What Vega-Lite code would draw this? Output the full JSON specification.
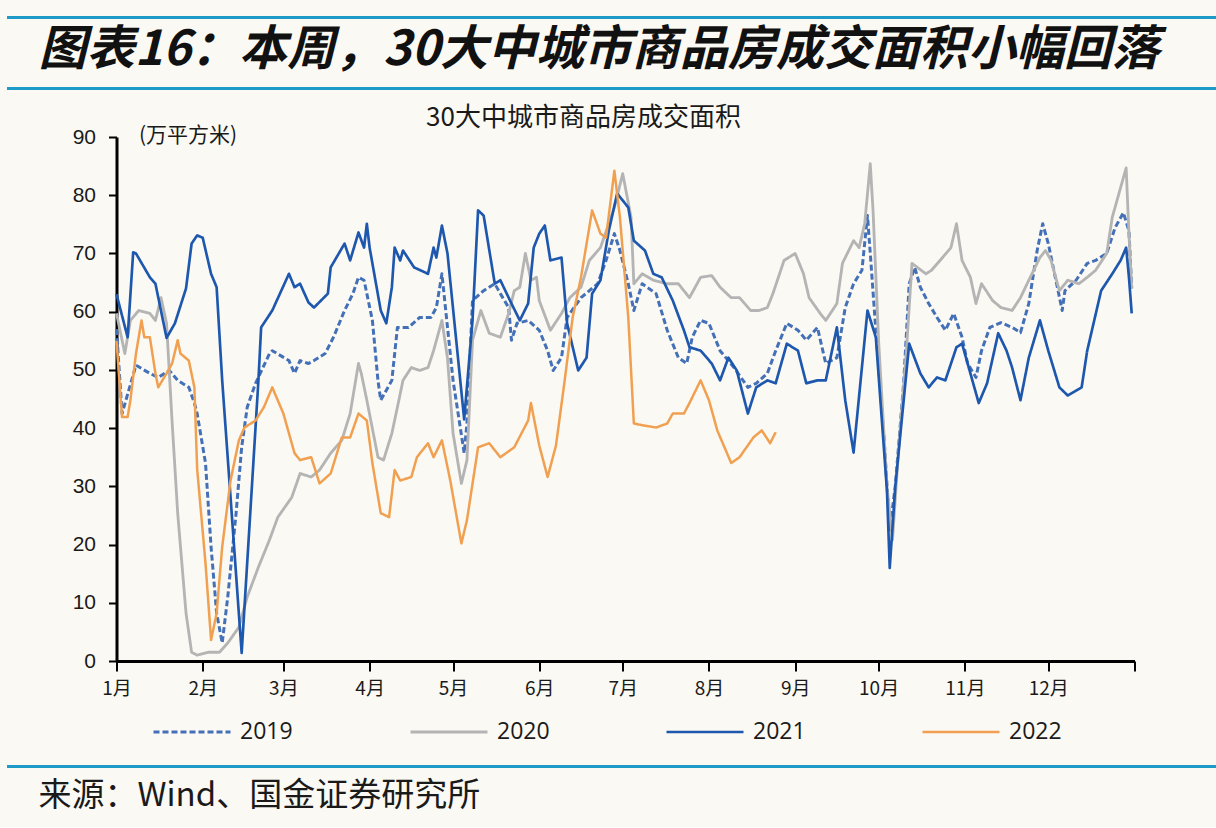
{
  "$schema": "https://vega.github.io/schema/vega-lite/v6.json",
  "background": "#FBF9F3",
  "padding": {"left": 6.5, "top": 17, "right": 0, "bottom": 14},
  "bounds": "flush",
  "center": true,
  "spacing": 49,
  "config": {
    "view": {"stroke": null},
    "font": "Noto Sans CJK SC",
    "axis": {"labelColor": "#1a1a1a", "titleColor": "#1a1a1a"}
  },
  "vconcat": [
    {
      "width": 1238,
      "height": 71,
      "data": {"values": [{"label": "图表16：本周，30大中城市商品房成交面积小幅回落"}]},
      "mark": {"type": "text", "font": "Noto Sans CJK SC", "fontSize": 48, "fontWeight": "bold", "fontStyle": "italic", "align": "left", "baseline": "middle", "color": "#111111"},
      "encoding": {
        "text": {"field": "label"},
        "x": {"datum": 0.0258, "type": "quantitative", "scale": {"domain": [0, 1]}, "axis": null},
        "y": {"datum": 0.52, "type": "quantitative", "scale": {"domain": [0, 1]},
          "axis": {"values": [0, 1], "grid": true, "gridColor": "#1E9AC8", "gridWidth": 3, "gridOpacity": 1, "domain": false, "ticks": false, "labels": false, "title": null}}
      }
    },
    {
      "width": 1018,
      "height": 524,
      "title": {"text": "30大中城市商品房成交面积", "font": "Noto Sans CJK SC", "fontSize": 26, "fontWeight": "normal", "color": "#1a1a1a", "anchor": "middle", "frame": "group", "dx": -42, "offset": -7},
      "data": {"values": [
        {"series":"2019","date":"2019/01/01","value":57},{"series":"2019","date":"2019/01/03","value":42.5},{"series":"2019","date":"2019/01/08","value":50.8},{"series":"2019","date":"2019/01/13","value":49.4},{"series":"2019","date":"2019/01/16","value":48.7},{"series":"2019","date":"2019/01/20","value":49.9},{"series":"2019","date":"2019/01/23","value":48.2},{"series":"2019","date":"2019/01/27","value":47},{"series":"2019","date":"2019/01/29","value":44.3},{"series":"2019","date":"2019/01/30","value":42.5},
        {"series":"2019","date":"2019/02/02","value":34},{"series":"2019","date":"2019/02/04","value":19.6},{"series":"2019","date":"2019/02/06","value":8.2},{"series":"2019","date":"2019/02/08","value":3.1},{"series":"2019","date":"2019/02/10","value":11},{"series":"2019","date":"2019/02/13","value":25.4},{"series":"2019","date":"2019/02/15","value":36.7},{"series":"2019","date":"2019/02/17","value":43.6},{"series":"2019","date":"2019/02/20","value":47.7},{"series":"2019","date":"2019/02/25","value":52.8},{"series":"2019","date":"2019/02/26","value":53.3},
        {"series":"2019","date":"2019/03/03","value":51.6},{"series":"2019","date":"2019/03/05","value":49.4},{"series":"2019","date":"2019/03/07","value":51.6},{"series":"2019","date":"2019/03/10","value":51.1},{"series":"2019","date":"2019/03/12","value":51.6},{"series":"2019","date":"2019/03/16","value":52.8},{"series":"2019","date":"2019/03/19","value":55.6},{"series":"2019","date":"2019/03/23","value":60.2},{"series":"2019","date":"2019/03/26","value":63.1},{"series":"2019","date":"2019/03/28","value":65.9},{"series":"2019","date":"2019/03/30","value":65.4},
        {"series":"2019","date":"2019/04/02","value":58.5},{"series":"2019","date":"2019/04/04","value":48.2},{"series":"2019","date":"2019/04/05","value":44.8},{"series":"2019","date":"2019/04/09","value":48.2},{"series":"2019","date":"2019/04/11","value":57.3},{"series":"2019","date":"2019/04/15","value":57.3},{"series":"2019","date":"2019/04/19","value":59},{"series":"2019","date":"2019/04/23","value":59},{"series":"2019","date":"2019/04/25","value":60.7},{"series":"2019","date":"2019/04/27","value":66.5},{"series":"2019","date":"2019/04/28","value":61.9},
        {"series":"2019","date":"2019/05/01","value":48.2},{"series":"2019","date":"2019/05/05","value":35.7},{"series":"2019","date":"2019/05/06","value":40.8},{"series":"2019","date":"2019/05/08","value":61.9},{"series":"2019","date":"2019/05/12","value":63.6},{"series":"2019","date":"2019/05/16","value":64.8},{"series":"2019","date":"2019/05/18","value":63.1},{"series":"2019","date":"2019/05/21","value":60.7},{"series":"2019","date":"2019/05/22","value":55.1},{"series":"2019","date":"2019/05/24","value":58},{"series":"2019","date":"2019/05/28","value":58.5},
        {"series":"2019","date":"2019/06/01","value":56.8},{"series":"2019","date":"2019/06/04","value":53.3},{"series":"2019","date":"2019/06/06","value":49.9},{"series":"2019","date":"2019/06/09","value":52.1},{"series":"2019","date":"2019/06/11","value":59},{"series":"2019","date":"2019/06/16","value":62.4},{"series":"2019","date":"2019/06/22","value":64.8},{"series":"2019","date":"2019/06/25","value":68.8},{"series":"2019","date":"2019/06/28","value":73.4},{"series":"2019","date":"2019/06/30","value":70.5},
        {"series":"2019","date":"2019/07/03","value":64.8},{"series":"2019","date":"2019/07/05","value":60.2},{"series":"2019","date":"2019/07/08","value":64.8},{"series":"2019","date":"2019/07/13","value":63.1},{"series":"2019","date":"2019/07/17","value":56.8},{"series":"2019","date":"2019/07/21","value":52.1},{"series":"2019","date":"2019/07/24","value":51.1},{"series":"2019","date":"2019/07/26","value":55.6},{"series":"2019","date":"2019/07/29","value":58.5},
        {"series":"2019","date":"2019/08/01","value":58},{"series":"2019","date":"2019/08/05","value":53.3},{"series":"2019","date":"2019/08/10","value":50.4},{"series":"2019","date":"2019/08/15","value":47},{"series":"2019","date":"2019/08/18","value":47.7},{"series":"2019","date":"2019/08/22","value":49.4},{"series":"2019","date":"2019/08/25","value":53.3},{"series":"2019","date":"2019/08/29","value":58},
        {"series":"2019","date":"2019/09/02","value":56.8},{"series":"2019","date":"2019/09/05","value":55.1},{"series":"2019","date":"2019/09/09","value":57.3},{"series":"2019","date":"2019/09/12","value":51.1},{"series":"2019","date":"2019/09/16","value":52.1},{"series":"2019","date":"2019/09/19","value":60.7},{"series":"2019","date":"2019/09/22","value":64.8},{"series":"2019","date":"2019/09/25","value":67.1},{"series":"2019","date":"2019/09/27","value":76.5},{"series":"2019","date":"2019/09/28","value":70},{"series":"2019","date":"2019/09/30","value":56.8},
        {"series":"2019","date":"2019/10/03","value":38},{"series":"2019","date":"2019/10/05","value":22.5},{"series":"2019","date":"2019/10/07","value":30},{"series":"2019","date":"2019/10/10","value":47.7},{"series":"2019","date":"2019/10/12","value":64.8},{"series":"2019","date":"2019/10/14","value":67.6},{"series":"2019","date":"2019/10/16","value":64.2},{"series":"2019","date":"2019/10/19","value":61.4},{"series":"2019","date":"2019/10/22","value":59},{"series":"2019","date":"2019/10/25","value":56.8},{"series":"2019","date":"2019/10/28","value":59.7},{"series":"2019","date":"2019/10/31","value":55.6},
        {"series":"2019","date":"2019/11/02","value":51.1},{"series":"2019","date":"2019/11/05","value":48.7},{"series":"2019","date":"2019/11/07","value":53.3},{"series":"2019","date":"2019/11/10","value":57.3},{"series":"2019","date":"2019/11/14","value":58.1},{"series":"2019","date":"2019/11/18","value":57.3},{"series":"2019","date":"2019/11/21","value":56.4},{"series":"2019","date":"2019/11/24","value":61.4},{"series":"2019","date":"2019/11/27","value":70.5},{"series":"2019","date":"2019/11/29","value":75.1},
        {"series":"2019","date":"2019/12/01","value":71.7},{"series":"2019","date":"2019/12/04","value":64.8},{"series":"2019","date":"2019/12/06","value":60.2},{"series":"2019","date":"2019/12/07","value":63.6},{"series":"2019","date":"2019/12/11","value":65.4},{"series":"2019","date":"2019/12/15","value":68.3},{"series":"2019","date":"2019/12/18","value":68.8},{"series":"2019","date":"2019/12/22","value":70},{"series":"2019","date":"2019/12/25","value":74.4},{"series":"2019","date":"2019/12/28","value":77},{"series":"2019","date":"2019/12/30","value":73.9},{"series":"2019","date":"2019/12/31","value":64},

        {"series":"2020","date":"2020/01/01","value":59.7},{"series":"2020","date":"2020/01/04","value":52.8},{"series":"2020","date":"2020/01/06","value":58.5},{"series":"2020","date":"2020/01/09","value":60.2},{"series":"2020","date":"2020/01/13","value":59.7},{"series":"2020","date":"2020/01/15","value":58.5},{"series":"2020","date":"2020/01/17","value":62.4},{"series":"2020","date":"2020/01/19","value":58},{"series":"2020","date":"2020/01/21","value":41},{"series":"2020","date":"2020/01/23","value":25.4},{"series":"2020","date":"2020/01/26","value":8.2},{"series":"2020","date":"2020/01/28","value":1.5},{"series":"2020","date":"2020/01/30","value":1},
        {"series":"2020","date":"2020/02/03","value":1.5},{"series":"2020","date":"2020/02/07","value":1.5},{"series":"2020","date":"2020/02/10","value":3.1},{"series":"2020","date":"2020/02/14","value":5.8},{"series":"2020","date":"2020/02/17","value":11},{"series":"2020","date":"2020/02/21","value":16.1},{"series":"2020","date":"2020/02/25","value":20.8},{"series":"2020","date":"2020/02/28","value":24.7},
        {"series":"2020","date":"2020/03/04","value":28.1},{"series":"2020","date":"2020/03/07","value":32.2},{"series":"2020","date":"2020/03/11","value":31.6},{"series":"2020","date":"2020/03/14","value":32.8},{"series":"2020","date":"2020/03/18","value":35.7},{"series":"2020","date":"2020/03/22","value":37.9},{"series":"2020","date":"2020/03/25","value":42.5},{"series":"2020","date":"2020/03/28","value":51.1},{"series":"2020","date":"2020/03/29","value":49.4},{"series":"2020","date":"2020/03/31","value":44.8},
        {"series":"2020","date":"2020/04/04","value":35},{"series":"2020","date":"2020/04/06","value":34.5},{"series":"2020","date":"2020/04/09","value":39.1},{"series":"2020","date":"2020/04/11","value":43.6},{"series":"2020","date":"2020/04/13","value":48.2},{"series":"2020","date":"2020/04/16","value":50.4},{"series":"2020","date":"2020/04/19","value":49.9},{"series":"2020","date":"2020/04/22","value":50.4},{"series":"2020","date":"2020/04/24","value":53.3},{"series":"2020","date":"2020/04/27","value":58.5},{"series":"2020","date":"2020/04/29","value":52},
        {"series":"2020","date":"2020/05/01","value":39.1},{"series":"2020","date":"2020/05/04","value":30.5},{"series":"2020","date":"2020/05/06","value":34.5},{"series":"2020","date":"2020/05/08","value":55.1},{"series":"2020","date":"2020/05/11","value":60.2},{"series":"2020","date":"2020/05/14","value":56.3},{"series":"2020","date":"2020/05/18","value":55.6},{"series":"2020","date":"2020/05/21","value":59.7},{"series":"2020","date":"2020/05/23","value":63.6},{"series":"2020","date":"2020/05/25","value":64.2},{"series":"2020","date":"2020/05/27","value":70},{"series":"2020","date":"2020/05/29","value":65.4},{"series":"2020","date":"2020/05/31","value":65.9},
        {"series":"2020","date":"2020/06/01","value":61.9},{"series":"2020","date":"2020/06/05","value":56.8},{"series":"2020","date":"2020/06/09","value":59.7},{"series":"2020","date":"2020/06/12","value":62.4},{"series":"2020","date":"2020/06/16","value":64.2},{"series":"2020","date":"2020/06/19","value":68.8},{"series":"2020","date":"2020/06/23","value":71},{"series":"2020","date":"2020/06/28","value":77.9},
        {"series":"2020","date":"2020/07/01","value":83.7},{"series":"2020","date":"2020/07/04","value":76.2},{"series":"2020","date":"2020/07/05","value":64.8},{"series":"2020","date":"2020/07/08","value":66.5},{"series":"2020","date":"2020/07/12","value":65.4},{"series":"2020","date":"2020/07/17","value":64.8},{"series":"2020","date":"2020/07/21","value":64.8},{"series":"2020","date":"2020/07/25","value":62.4},{"series":"2020","date":"2020/07/29","value":65.9},
        {"series":"2020","date":"2020/08/02","value":66.2},{"series":"2020","date":"2020/08/05","value":64.2},{"series":"2020","date":"2020/08/09","value":62.4},{"series":"2020","date":"2020/08/12","value":62.4},{"series":"2020","date":"2020/08/16","value":60.2},{"series":"2020","date":"2020/08/19","value":60.2},{"series":"2020","date":"2020/08/22","value":60.7},{"series":"2020","date":"2020/08/24","value":63.1},{"series":"2020","date":"2020/08/28","value":68.8},
        {"series":"2020","date":"2020/09/01","value":70},{"series":"2020","date":"2020/09/04","value":66.5},{"series":"2020","date":"2020/09/06","value":62.4},{"series":"2020","date":"2020/09/10","value":59.7},{"series":"2020","date":"2020/09/12","value":58.5},{"series":"2020","date":"2020/09/16","value":61.4},{"series":"2020","date":"2020/09/18","value":68.3},{"series":"2020","date":"2020/09/22","value":72.2},{"series":"2020","date":"2020/09/24","value":71},{"series":"2020","date":"2020/09/26","value":75.1},{"series":"2020","date":"2020/09/28","value":85.4},{"series":"2020","date":"2020/09/29","value":77.4},
        {"series":"2020","date":"2020/10/01","value":55},{"series":"2020","date":"2020/10/04","value":30},{"series":"2020","date":"2020/10/06","value":20.8},{"series":"2020","date":"2020/10/08","value":35},{"series":"2020","date":"2020/10/11","value":53.3},{"series":"2020","date":"2020/10/13","value":68.3},{"series":"2020","date":"2020/10/18","value":66.5},{"series":"2020","date":"2020/10/20","value":67.1},{"series":"2020","date":"2020/10/24","value":69.3},{"series":"2020","date":"2020/10/27","value":71},{"series":"2020","date":"2020/10/29","value":75.1},{"series":"2020","date":"2020/10/31","value":68.8},
        {"series":"2020","date":"2020/11/03","value":65.9},{"series":"2020","date":"2020/11/05","value":61.4},{"series":"2020","date":"2020/11/07","value":64.8},{"series":"2020","date":"2020/11/11","value":61.9},{"series":"2020","date":"2020/11/14","value":60.7},{"series":"2020","date":"2020/11/18","value":60.2},{"series":"2020","date":"2020/11/21","value":62.4},{"series":"2020","date":"2020/11/24","value":65.4},{"series":"2020","date":"2020/11/28","value":69.3},{"series":"2020","date":"2020/11/30","value":70.5},
        {"series":"2020","date":"2020/12/02","value":68.8},{"series":"2020","date":"2020/12/05","value":63.6},{"series":"2020","date":"2020/12/08","value":65.4},{"series":"2020","date":"2020/12/12","value":64.8},{"series":"2020","date":"2020/12/15","value":65.9},{"series":"2020","date":"2020/12/18","value":67.1},{"series":"2020","date":"2020/12/22","value":70},{"series":"2020","date":"2020/12/24","value":76.2},{"series":"2020","date":"2020/12/27","value":81.3},{"series":"2020","date":"2020/12/29","value":84.7},{"series":"2020","date":"2020/12/30","value":73.4},{"series":"2020","date":"2020/12/31","value":64},

        {"series":"2021","date":"2021/01/01","value":63},{"series":"2021","date":"2021/01/05","value":55.6},{"series":"2021","date":"2021/01/07","value":70.2},{"series":"2021","date":"2021/01/08","value":70},{"series":"2021","date":"2021/01/13","value":65.9},{"series":"2021","date":"2021/01/15","value":64.8},{"series":"2021","date":"2021/01/19","value":55.5},{"series":"2021","date":"2021/01/22","value":58},{"series":"2021","date":"2021/01/26","value":64},{"series":"2021","date":"2021/01/28","value":71.7},{"series":"2021","date":"2021/01/30","value":73.1},
        {"series":"2021","date":"2021/02/01","value":72.7},{"series":"2021","date":"2021/02/04","value":66.5},{"series":"2021","date":"2021/02/06","value":64.2},{"series":"2021","date":"2021/02/08","value":48.2},{"series":"2021","date":"2021/02/15","value":1.4},{"series":"2021","date":"2021/02/21","value":48},{"series":"2021","date":"2021/02/22","value":57.3},{"series":"2021","date":"2021/02/26","value":60.2},
        {"series":"2021","date":"2021/03/03","value":66.5},{"series":"2021","date":"2021/03/05","value":64.2},{"series":"2021","date":"2021/03/07","value":64.8},{"series":"2021","date":"2021/03/10","value":61.6},{"series":"2021","date":"2021/03/12","value":60.7},{"series":"2021","date":"2021/03/17","value":63.1},{"series":"2021","date":"2021/03/18","value":67.6},{"series":"2021","date":"2021/03/23","value":71.7},{"series":"2021","date":"2021/03/25","value":68.8},{"series":"2021","date":"2021/03/28","value":73.6},{"series":"2021","date":"2021/03/30","value":71},{"series":"2021","date":"2021/03/31","value":75.1},
        {"series":"2021","date":"2021/04/01","value":71},{"series":"2021","date":"2021/04/05","value":60.2},{"series":"2021","date":"2021/04/07","value":58},{"series":"2021","date":"2021/04/09","value":64.2},{"series":"2021","date":"2021/04/10","value":71},{"series":"2021","date":"2021/04/12","value":68.8},{"series":"2021","date":"2021/04/13","value":70.5},{"series":"2021","date":"2021/04/17","value":67.6},{"series":"2021","date":"2021/04/22","value":66.5},{"series":"2021","date":"2021/04/24","value":71},{"series":"2021","date":"2021/04/25","value":69.3},{"series":"2021","date":"2021/04/27","value":74.8},{"series":"2021","date":"2021/04/29","value":70},
        {"series":"2021","date":"2021/05/05","value":41.5},{"series":"2021","date":"2021/05/08","value":58.5},{"series":"2021","date":"2021/05/10","value":77.4},{"series":"2021","date":"2021/05/12","value":76.5},{"series":"2021","date":"2021/05/16","value":64.8},{"series":"2021","date":"2021/05/18","value":65.4},{"series":"2021","date":"2021/05/22","value":61.4},{"series":"2021","date":"2021/05/25","value":58.5},{"series":"2021","date":"2021/05/28","value":61.4},{"series":"2021","date":"2021/05/30","value":71},
        {"series":"2021","date":"2021/06/01","value":73.4},{"series":"2021","date":"2021/06/03","value":74.8},{"series":"2021","date":"2021/06/05","value":68.8},{"series":"2021","date":"2021/06/09","value":69.3},{"series":"2021","date":"2021/06/11","value":58},{"series":"2021","date":"2021/06/15","value":49.9},{"series":"2021","date":"2021/06/18","value":52.1},{"series":"2021","date":"2021/06/20","value":63.1},{"series":"2021","date":"2021/06/23","value":65.4},{"series":"2021","date":"2021/06/26","value":73.9},{"series":"2021","date":"2021/06/29","value":80.3},
        {"series":"2021","date":"2021/07/03","value":77.9},{"series":"2021","date":"2021/07/05","value":72.2},{"series":"2021","date":"2021/07/09","value":70.5},{"series":"2021","date":"2021/07/12","value":66.5},{"series":"2021","date":"2021/07/15","value":65.9},{"series":"2021","date":"2021/07/19","value":61.9},{"series":"2021","date":"2021/07/23","value":56.8},{"series":"2021","date":"2021/07/25","value":53.9},{"series":"2021","date":"2021/07/29","value":53.3},
        {"series":"2021","date":"2021/08/02","value":51.1},{"series":"2021","date":"2021/08/05","value":48.2},{"series":"2021","date":"2021/08/08","value":52.1},{"series":"2021","date":"2021/08/11","value":49.9},{"series":"2021","date":"2021/08/15","value":42.5},{"series":"2021","date":"2021/08/18","value":47},{"series":"2021","date":"2021/08/22","value":48.2},{"series":"2021","date":"2021/08/25","value":47.7},{"series":"2021","date":"2021/08/29","value":54.5},
        {"series":"2021","date":"2021/09/02","value":53.3},{"series":"2021","date":"2021/09/05","value":47.7},{"series":"2021","date":"2021/09/09","value":48.2},{"series":"2021","date":"2021/09/12","value":48.2},{"series":"2021","date":"2021/09/16","value":57.3},{"series":"2021","date":"2021/09/19","value":44.8},{"series":"2021","date":"2021/09/22","value":35.8},{"series":"2021","date":"2021/09/27","value":60.2},{"series":"2021","date":"2021/09/30","value":55.6},
        {"series":"2021","date":"2021/10/04","value":29.3},{"series":"2021","date":"2021/10/05","value":16},{"series":"2021","date":"2021/10/07","value":30},{"series":"2021","date":"2021/10/12","value":54.5},{"series":"2021","date":"2021/10/16","value":49.4},{"series":"2021","date":"2021/10/19","value":47},{"series":"2021","date":"2021/10/22","value":48.7},{"series":"2021","date":"2021/10/25","value":48.2},{"series":"2021","date":"2021/10/29","value":53.9},{"series":"2021","date":"2021/10/31","value":54.5},
        {"series":"2021","date":"2021/11/04","value":47.7},{"series":"2021","date":"2021/11/06","value":44.3},{"series":"2021","date":"2021/11/09","value":47.7},{"series":"2021","date":"2021/11/13","value":56.3},{"series":"2021","date":"2021/11/16","value":53.3},{"series":"2021","date":"2021/11/18","value":50.4},{"series":"2021","date":"2021/11/21","value":44.8},{"series":"2021","date":"2021/11/24","value":52.1},{"series":"2021","date":"2021/11/28","value":58.5},
        {"series":"2021","date":"2021/12/01","value":53.3},{"series":"2021","date":"2021/12/05","value":47},{"series":"2021","date":"2021/12/08","value":45.6},{"series":"2021","date":"2021/12/13","value":47},{"series":"2021","date":"2021/12/15","value":53.3},{"series":"2021","date":"2021/12/20","value":63.6},{"series":"2021","date":"2021/12/24","value":66.5},{"series":"2021","date":"2021/12/27","value":68.8},{"series":"2021","date":"2021/12/29","value":71},{"series":"2021","date":"2021/12/30","value":65.9},{"series":"2021","date":"2021/12/31","value":59.7},

        {"series":"2022","date":"2022/01/01","value":55},{"series":"2022","date":"2022/01/03","value":41.9},{"series":"2022","date":"2022/01/05","value":41.9},{"series":"2022","date":"2022/01/06","value":44.8},{"series":"2022","date":"2022/01/08","value":52.8},{"series":"2022","date":"2022/01/10","value":58.5},{"series":"2022","date":"2022/01/11","value":55.6},{"series":"2022","date":"2022/01/13","value":55.6},{"series":"2022","date":"2022/01/15","value":49.4},{"series":"2022","date":"2022/01/16","value":47},{"series":"2022","date":"2022/01/19","value":49.4},{"series":"2022","date":"2022/01/21","value":51.1},{"series":"2022","date":"2022/01/23","value":55.1},{"series":"2022","date":"2022/01/24","value":52.8},{"series":"2022","date":"2022/01/27","value":51.6},{"series":"2022","date":"2022/01/29","value":47},{"series":"2022","date":"2022/01/30","value":33},
        {"series":"2022","date":"2022/02/02","value":16.8},{"series":"2022","date":"2022/02/04","value":3.6},{"series":"2022","date":"2022/02/06","value":8.2},{"series":"2022","date":"2022/02/08","value":19.6},{"series":"2022","date":"2022/02/11","value":31},{"series":"2022","date":"2022/02/14","value":37.9},{"series":"2022","date":"2022/02/16","value":40.1},{"series":"2022","date":"2022/02/20","value":41.3},{"series":"2022","date":"2022/02/23","value":43.6},{"series":"2022","date":"2022/02/26","value":47},
        {"series":"2022","date":"2022/03/01","value":42.5},{"series":"2022","date":"2022/03/05","value":35.7},{"series":"2022","date":"2022/03/07","value":34.5},{"series":"2022","date":"2022/03/11","value":35},{"series":"2022","date":"2022/03/14","value":30.5},{"series":"2022","date":"2022/03/18","value":32.2},{"series":"2022","date":"2022/03/22","value":38.4},{"series":"2022","date":"2022/03/25","value":38.4},{"series":"2022","date":"2022/03/28","value":42.5},{"series":"2022","date":"2022/03/31","value":41.3},
        {"series":"2022","date":"2022/04/02","value":34},{"series":"2022","date":"2022/04/05","value":25.4},{"series":"2022","date":"2022/04/08","value":24.7},{"series":"2022","date":"2022/04/10","value":32.8},{"series":"2022","date":"2022/04/12","value":31},{"series":"2022","date":"2022/04/16","value":31.6},{"series":"2022","date":"2022/04/18","value":35},{"series":"2022","date":"2022/04/22","value":37.4},{"series":"2022","date":"2022/04/24","value":35},{"series":"2022","date":"2022/04/27","value":37.9},{"series":"2022","date":"2022/04/30","value":31},
        {"series":"2022","date":"2022/05/04","value":20.2},{"series":"2022","date":"2022/05/06","value":24.2},{"series":"2022","date":"2022/05/10","value":36.7},{"series":"2022","date":"2022/05/14","value":37.4},{"series":"2022","date":"2022/05/18","value":35},{"series":"2022","date":"2022/05/23","value":36.7},{"series":"2022","date":"2022/05/28","value":41.3},{"series":"2022","date":"2022/05/29","value":44.3},
        {"series":"2022","date":"2022/06/01","value":37},{"series":"2022","date":"2022/06/04","value":31.6},{"series":"2022","date":"2022/06/07","value":37},{"series":"2022","date":"2022/06/10","value":47.7},{"series":"2022","date":"2022/06/13","value":59},{"series":"2022","date":"2022/06/16","value":65.9},{"series":"2022","date":"2022/06/20","value":77.4},{"series":"2022","date":"2022/06/23","value":73.4},{"series":"2022","date":"2022/06/25","value":72.7},{"series":"2022","date":"2022/06/28","value":84.2},{"series":"2022","date":"2022/06/30","value":76.2},
        {"series":"2022","date":"2022/07/03","value":59},{"series":"2022","date":"2022/07/05","value":40.8},{"series":"2022","date":"2022/07/08","value":40.5},{"series":"2022","date":"2022/07/13","value":40.1},{"series":"2022","date":"2022/07/17","value":40.8},{"series":"2022","date":"2022/07/19","value":42.5},{"series":"2022","date":"2022/07/23","value":42.5},{"series":"2022","date":"2022/07/25","value":44.3},{"series":"2022","date":"2022/07/29","value":48.2},
        {"series":"2022","date":"2022/08/01","value":44.8},{"series":"2022","date":"2022/08/04","value":39.6},{"series":"2022","date":"2022/08/09","value":34},{"series":"2022","date":"2022/08/12","value":35},{"series":"2022","date":"2022/08/17","value":38.4},{"series":"2022","date":"2022/08/20","value":39.6},{"series":"2022","date":"2022/08/23","value":37.4},{"series":"2022","date":"2022/08/25","value":39.3}
      ]},
      "mark": {"type": "line", "strokeJoin": "round"},
      "encoding": {
        "x": {
          "field": "date", "type": "temporal", "timeUnit": "monthdate",
          "scale": {"domain": [{"year": 2012, "month": 1, "date": 1}, {"year": 2013, "month": 1, "date": 1}]},
          "axis": {
            "values": [{"year":2012,"month":1,"date":1},{"year":2012,"month":2,"date":1},{"year":2012,"month":3,"date":1},{"year":2012,"month":4,"date":1},{"year":2012,"month":5,"date":1},{"year":2012,"month":6,"date":1},{"year":2012,"month":7,"date":1},{"year":2012,"month":8,"date":1},{"year":2012,"month":9,"date":1},{"year":2012,"month":10,"date":1},{"year":2012,"month":11,"date":1},{"year":2012,"month":12,"date":1},{"year":2013,"month":1,"date":1}],
            "labelExpr": "year(datum.value) > 2012 ? '' : (month(datum.value) + 1) + '月'",
            "title": null, "grid": false,
            "domainColor": "#000000", "domainWidth": 3,
            "tickColor": "#000000", "tickWidth": 2, "tickSize": 10,
            "labelFont": "Noto Sans CJK SC", "labelFontSize": 19, "labelPadding": 8,
            "labelFlush": false, "labelOverlap": false
          }
        },
        "y": {
          "field": "value", "type": "quantitative",
          "scale": {"domain": [0, 90], "nice": false},
          "axis": {
            "values": [0, 10, 20, 30, 40, 50, 60, 70, 80, 90],
            "grid": false,
            "domainColor": "#000000", "domainWidth": 3,
            "tickColor": "#000000", "tickWidth": 2, "tickSize": 8,
            "labelFont": "Liberation Sans", "labelFontSize": 21, "labelPadding": 13,
            "title": "(万平方米)", "titleAngle": 0, "titleX": 22, "titleY": -2,
            "titleAlign": "left", "titleBaseline": "middle",
            "titleFont": "Noto Sans CJK SC", "titleFontSize": 21, "titleFontWeight": "normal"
          }
        },
        "color": {
          "field": "series", "type": "nominal",
          "scale": {"domain": ["2019", "2020", "2021", "2022"], "range": ["#4470B8", "#B4B4B4", "#1D57AE", "#F0A050"]},
          "legend": {
            "orient": "none", "legendX": 145.5, "legendY": 675, "direction": "horizontal",
            "title": null, "symbolType": "stroke", "symbolSize": 5929,
            "labelFont": "Open Sans", "labelFontSize": 23, "labelColor": "#1a1a1a",
            "labelOffset": 8, "columnPadding": 111, "padding": 0
          }
        },
        "strokeDash": {
          "field": "series", "type": "nominal",
          "scale": {"domain": ["2019", "2020", "2021", "2022"], "range": [[6, 3], [1, 0], [1, 0], [1, 0]]}
        },
        "strokeWidth": {
          "field": "series", "type": "ordinal",
          "scale": {"domain": ["2019", "2020", "2021", "2022"], "range": [3, 2.5, 4, 3]}
        }
      }
    },
    {
      "width": 1238,
      "height": 56,
      "title": {"text": "来源：Wind、国金证券研究所", "orient": "bottom", "anchor": "start", "frame": "group", "dx": 32, "offset": 14, "font": "Noto Sans CJK SC", "fontSize": 33, "fontWeight": "normal", "color": "#1a1a1a"},
      "data": {"values": [{"label": ""}]},
      "mark": {"type": "text"},
      "encoding": {
        "text": {"field": "label"},
        "x": {"datum": 0.5, "type": "quantitative", "scale": {"domain": [0, 1]}, "axis": null},
        "y": {"datum": 0.5, "type": "quantitative", "scale": {"domain": [0, 1]},
          "axis": {"values": [0], "grid": true, "gridColor": "#1E9AC8", "gridWidth": 3, "gridOpacity": 1, "domain": false, "ticks": false, "labels": false, "title": null}}
      }
    }
  ]
}
